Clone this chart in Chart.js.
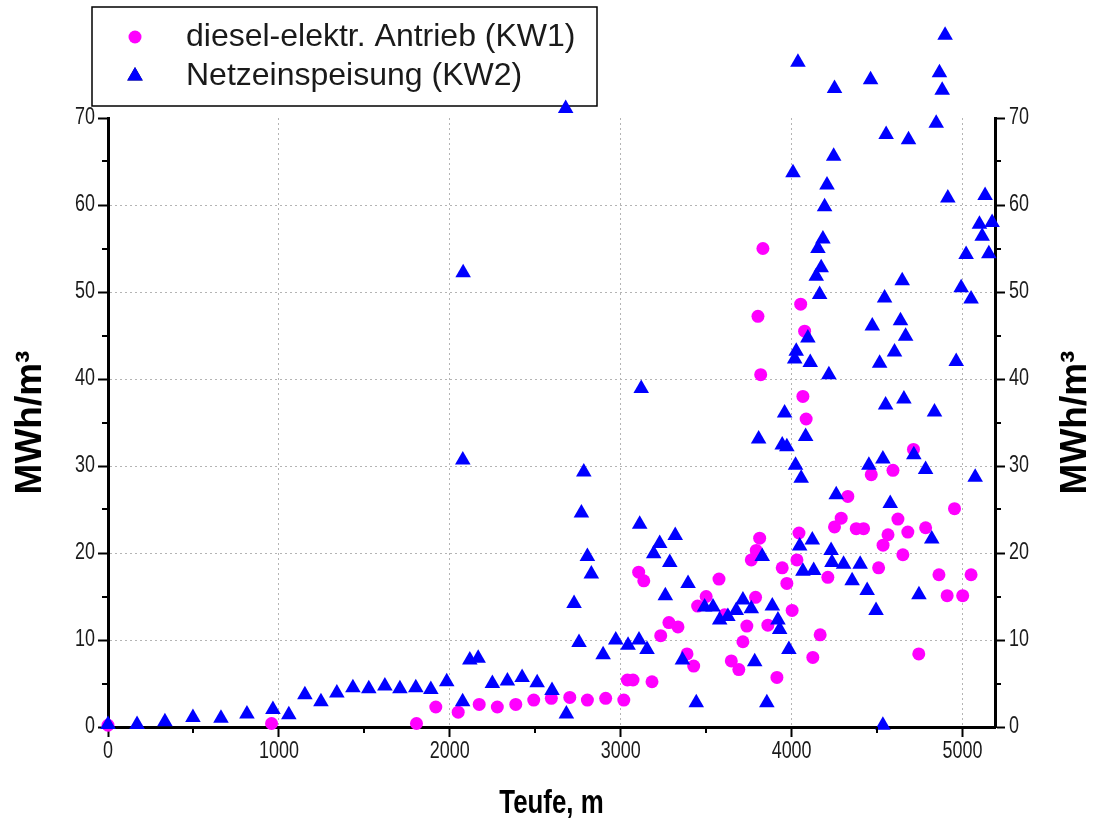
<!DOCTYPE html>
<html>
<head>
<meta charset="utf-8">
<script src="https://cdn.jsdelivr.net/npm/chart.js@4.4.1/dist/chart.umd.min.js"></script>
<style>
  html, body { margin: 0; padding: 0; background: #fff; }
  #wrap { width: 1099px; height: 827px; }
</style>
</head>
<body>
<div id="wrap"><canvas id="c" width="1099" height="827"></canvas></div>
<script>
// Spezifischer Energiebedarf über der Teufe
const seriesLabels = ['diesel-elektr. Antrieb (KW1)', 'Netzeinspeisung (KW2)'];
const xTitle = 'Teufe, m';
const yTitle = 'MWh/m³';

const xTicks = [0, 1000, 2000, 3000, 4000, 5000];
const xMinorTicks = [500, 1500, 2500, 3500, 4500];
const yTicks = [0, 10, 20, 30, 40, 50, 60, 70];
const yMinorTicks = [5, 15, 25, 35, 45, 55, 65];
const xRange = [0, 5190];
const yRange = [0, 70];

// KW1 – diesel-elektrischer Antrieb
const depthKW1 = [0, 957, 1805, 1918, 2049, 2172, 2278, 2386, 2491, 2594, 2702, 2805, 2912, 3018,
  3039, 3072, 3105, 3135, 3183, 3234, 3282, 3335, 3388, 3427, 3450, 3500, 3575, 3608, 3647, 3691,
  3715, 3738, 3764, 3789, 3793, 3803, 3813, 3819, 3832, 3861, 3914, 3945, 3972, 4003, 4031, 4043,
  4053, 4066, 4076, 4085, 4124, 4167, 4212, 4251, 4290, 4329, 4378, 4421, 4466, 4509, 4535, 4564,
  4593, 4622, 4651, 4680, 4713, 4744, 4784, 4862, 4910, 4953, 5001, 5050];
const energyKW1 = [0.2, 0.4, 0.4, 2.3, 1.7, 2.6, 2.3, 2.6, 3.1, 3.3, 3.4, 3.1, 3.3, 3.1,
  5.4, 5.4, 17.8, 16.8, 5.2, 10.5, 12.0, 11.5, 8.4, 7.0, 13.9, 15.0, 17.0, 12.9, 7.6, 6.6,
  9.8, 11.6, 19.2, 14.9, 20.3, 47.2, 21.7, 40.5, 55.0, 11.7, 5.7, 18.3, 16.5, 13.4, 19.2, 22.3,
  48.6, 38.0, 45.5, 35.4, 8.0, 10.6, 17.2, 23.0, 24.0, 26.5, 22.8, 22.8, 29.0, 18.3, 20.9, 22.1,
  29.5, 23.9, 19.8, 22.4, 31.9, 8.4, 22.9, 17.5, 15.1, 25.1, 15.1, 17.5];

// KW2 – Netzeinspeisung
const depthKW2 = [0, 170, 333, 497, 661, 813, 965, 1058, 1152, 1246, 1339, 1433, 1526, 1620, 1708,
  1801, 1889, 1982, 2075, 2078, 2076, 2117, 2166, 2249, 2337, 2423, 2511, 2598, 2678, 2682, 2727,
  2756, 2770, 2784, 2805, 2828, 2897, 2971, 3043, 3107, 3111, 3120, 3154, 3193, 3228, 3261, 3287,
  3319, 3361, 3394, 3442, 3491, 3540, 3579, 3627, 3676, 3715, 3764, 3784, 3807, 3828, 3855, 3887,
  3920, 3930, 3945, 3959, 3972, 3984, 4008, 4018, 4023, 4027, 4037, 4047, 4056, 4066, 4082, 4095,
  4109, 4121, 4129, 4144, 4154, 4164, 4173, 4183, 4193, 4207, 4218, 4231, 4236, 4246, 4251, 4261,
  4304, 4354, 4401, 4442, 4452, 4462, 4472, 4494, 4515, 4534, 4534, 4544, 4550, 4553, 4577, 4602,
  4637, 4647, 4657, 4667, 4684, 4715, 4745, 4784, 4820, 4836, 4846, 4865, 4881, 4898, 4914, 4963,
  4992, 5021, 5050, 5074, 5099, 5115, 5132, 5154, 5173];
const energyKW2 = [0.3, 0.3, 0.6, 1.1, 1.0, 1.5, 2.0, 1.4, 3.7, 2.9, 3.9, 4.5, 4.4, 4.7, 4.4,
  4.5, 4.3, 5.2, 2.9, 52.2, 30.7, 7.7, 7.9, 5.0, 5.3, 5.7, 5.1, 4.2, 71.1, 1.5, 14.2,
  9.7, 24.6, 29.3, 19.6, 17.6, 8.3, 10.0, 9.4, 10.0, 23.3, 38.9, 8.9, 19.9, 21.1, 15.1, 18.9,
  22.0, 7.7, 16.5, 2.8, 13.8, 13.8, 12.3, 12.7, 13.4, 14.6, 13.6, 7.5, 33.1, 19.6, 2.8, 13.9,
  12.3, 11.2, 32.4, 36.1, 32.2, 8.9, 63.7, 42.3, 30.1, 43.2, 76.4, 20.8, 28.6, 17.9, 33.4, 44.7,
  41.9, 21.5, 18.0, 51.8, 55.0, 49.7, 52.8, 56.1, 59.8, 62.3, 40.5, 20.3, 18.9, 65.6, 73.4, 26.7,
  18.7, 16.8, 18.7, 15.7, 30.1, 74.4, 46.1, 13.4, 41.8, 0.2, 30.8, 49.3, 37.0, 68.1, 25.7, 43.1,
  46.7, 51.3, 37.7, 44.9, 67.5, 31.3, 15.2, 29.6, 21.6, 36.2, 69.4, 75.2, 73.2, 79.5, 60.8, 42.0,
  50.5, 54.3, 49.2, 28.7, 57.8, 56.4, 61.1, 54.4, 58.0];

const toPoints = (xs, ys) => xs.map((x, i) => ({ x: x, y: ys[i] }));

const FONT = '"Liberation Sans", Arial, sans-serif';
const TEXT = '#1a1a1a';
const NARROW = 0.78;   // horizontal squeeze of the axis lettering

function narrowText(ctx, text, x, y, align, baseline, font, sx) {
  ctx.save();
  ctx.translate(x, y);
  ctx.scale(sx, 1);
  ctx.font = font;
  ctx.textAlign = align;
  ctx.textBaseline = baseline;
  ctx.fillText(text, 0, 0);
  ctx.restore();
}

// framed legend, drawn beneath the markers
function drawLegend(chart) {
  const ctx = chart.ctx;
  const box = { x: 92, y: 7, w: 505, h: 99 };
  ctx.save();
  ctx.fillStyle = '#fff';
  ctx.fillRect(box.x, box.y, box.w, box.h);
  ctx.strokeStyle = '#000';
  ctx.lineWidth = 1.5;
  ctx.strokeRect(box.x, box.y, box.w, box.h);
  const rows = [37, 76];
  chart.data.datasets.forEach((ds, i) => {
    const cy = rows[i];
    Chart.helpers.drawPoint(ctx, {
      pointStyle: ds.pointStyle, radius: ds.pointRadius, borderWidth: 0, rotation: 0
    }, 135, cy);
    ctx.fillStyle = ds.backgroundColor;
    ctx.fill();
    ctx.fillStyle = TEXT;
    ctx.font = '32px ' + FONT;
    ctx.textAlign = 'left';
    ctx.textBaseline = 'middle';
    ctx.fillText(ds.label, 186, cy);
  });
  ctx.restore();
}

// values above the axis top are still plotted (the frame is open at the top)
let savedTop = 0;
const openTop = {
  id: 'openTop',
  beforeDatasetsDraw(chart) {
    drawLegend(chart);
    savedTop = chart.chartArea.top;
    chart.chartArea.top = 0;
  },
  afterDatasetsDraw(chart) { chart.chartArea.top = savedTop; }
};

// tick labels, short minor tick marks and axis titles
const decorations = {
  id: 'decorations',
  afterDraw(chart) {
    const ctx = chart.ctx;
    const area = chart.chartArea;
    const sx = chart.scales.x, sy = chart.scales.y;
    ctx.save();
    ctx.strokeStyle = '#000';
    ctx.lineWidth = 2;
    ctx.beginPath();
    xMinorTicks.forEach(v => {
      const px = Math.round(sx.getPixelForValue(v));
      ctx.moveTo(px, area.bottom);
      ctx.lineTo(px, area.bottom + 6);
    });
    yMinorTicks.forEach(v => {
      const py = Math.round(sy.getPixelForValue(v));
      ctx.moveTo(area.left, py);
      ctx.lineTo(area.left - 6, py);
      ctx.moveTo(area.right, py);
      ctx.lineTo(area.right + 6, py);
    });
    ctx.stroke();

    ctx.fillStyle = TEXT;
    const tickFont = '23px ' + FONT;
    sx.ticks.forEach(t => {
      narrowText(ctx, String(t.value), sx.getPixelForValue(t.value), area.bottom + 13, 'center', 'top', tickFont, NARROW);
    });
    sy.ticks.forEach(t => {
      const py = sy.getPixelForValue(t.value);
      narrowText(ctx, String(t.value), area.left - 13, py, 'right', 'middle', tickFont, NARROW);
      narrowText(ctx, String(t.value), area.right + 14, py, 'left', 'middle', tickFont, NARROW);
    });

    // axis titles
    ctx.fillStyle = '#000';
    narrowText(ctx, xTitle, (area.left + area.right) / 2, 804, 'center', 'middle', 'bold 34px ' + FONT, 0.76);
    const midY = (area.top + area.bottom) / 2;
    [31, 1076].forEach(cx => {
      ctx.save();
      ctx.translate(cx, midY);
      ctx.rotate(-Math.PI / 2);
      ctx.font = 'bold 37px ' + FONT;
      ctx.textAlign = 'center';
      ctx.textBaseline = 'middle';
      ctx.fillText(yTitle, 0, 0);
      ctx.restore();
    });
    ctx.restore();
  }
};

const gridColor = ctx => {
  const v = ctx.tick ? ctx.tick.value : null;
  return (v === null || v === 0 || v === yRange[1]) ? 'rgba(0,0,0,0)' : '#b4b4b4';
};

const tickMarks = { tickLength: 10, tickColor: '#000', tickWidth: 2, tickBorderDash: [] };

new Chart(document.getElementById('c'), {
  type: 'scatter',
  data: {
    datasets: [
      {
        label: seriesLabels[0],
        data: toPoints(depthKW1, energyKW1),
        pointStyle: 'circle',
        pointRadius: 6.5,
        pointBorderWidth: 0,
        backgroundColor: '#ff00ff',
        borderColor: '#ff00ff',
        clip: false,
        order: 1
      },
      {
        label: seriesLabels[1],
        data: toPoints(depthKW2, energyKW2),
        pointStyle: 'triangle',
        pointRadius: 9,
        pointBorderWidth: 0,
        backgroundColor: '#0000ff',
        borderColor: '#0000ff',
        clip: false,
        order: 0
      }
    ]
  },
  options: {
    responsive: false,
    animation: false,
    devicePixelRatio: 1,
    layout: { padding: { top: 118, left: 0, right: 0, bottom: 0 } },
    plugins: { legend: { display: false }, tooltip: { enabled: false } },
    scales: {
      x: {
        type: 'linear',
        position: 'bottom',
        min: xRange[0],
        max: xRange[1],
        afterBuildTicks: s => { s.ticks = xTicks.map(v => ({ value: v })); },
        afterFit: s => { s.height = 100; },
        ticks: { display: false },
        grid: Object.assign({ color: gridColor, lineWidth: 1 }, tickMarks),
        border: { display: true, color: '#000', width: 3, dash: [2, 3] }
      },
      y: {
        type: 'linear',
        position: 'left',
        min: yRange[0],
        max: yRange[1],
        afterBuildTicks: s => { s.ticks = yTicks.map(v => ({ value: v })); },
        afterFit: s => { s.width = 108; },
        ticks: { display: false },
        grid: Object.assign({ color: gridColor, lineWidth: 1 }, tickMarks),
        border: { display: true, color: '#000', width: 3, dash: [2, 3] }
      },
      y2: {
        type: 'linear',
        position: 'right',
        min: yRange[0],
        max: yRange[1],
        afterBuildTicks: s => { s.ticks = yTicks.map(v => ({ value: v })); },
        afterFit: s => { s.width = 104; },
        ticks: { display: false },
        grid: Object.assign({ drawOnChartArea: false }, tickMarks),
        border: { display: true, color: '#000', width: 3 }
      }
    }
  },
  plugins: [openTop, decorations]
});
</script>
</body>
</html>
